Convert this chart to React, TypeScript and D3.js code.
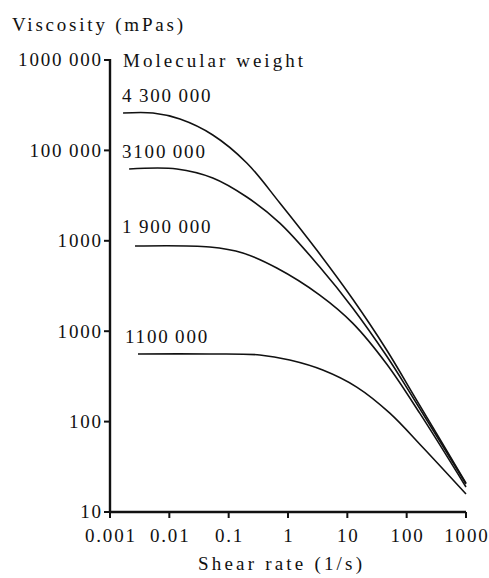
import React from "react";
import * as d3 from "d3";

const W = 489;
const H = 578;

// x: shear rate (1/s), y: viscosity (mPas)
const series4300000: [number, number][] = [
  [0.00166, 259000], [0.0053, 259000], [0.0151, 222000], [0.054, 148000],
  [0.202, 72600], [0.728, 26200], [3.05, 7900], [12.3, 2270], [46, 620],
  [147, 173], [1000, 20.9],
];
const series3100000: [number, number][] = [
  [0.0021, 62300], [0.0134, 62300], [0.054, 49500], [0.202, 30500],
  [0.728, 15700], [3.43, 5130], [12.3, 1810], [46, 532], [112, 212], [1000, 20.4],
];
const series1900000: [number, number][] = [
  [0.00264, 8750], [0.048, 8530], [0.173, 7330], [0.647, 5000], [3.43, 2510],
  [12.3, 1230], [46, 434], [166, 124], [1000, 18.9],
];
const series1100000: [number, number][] = [
  [0.00296, 560], [0.048, 560], [0.335, 546], [1.07, 480], [3.85, 372],
  [14.4, 241], [52, 124], [186, 52], [1000, 15.8],
];

const seriesLabels = ["4\u2009300\u2009000", "3100\u2009000", "1\u2009900\u2009000", "1100\u2009000"];
const seriesData = [series4300000, series3100000, series1900000, series1100000];

const xTicks = [0.001, 0.01, 0.1, 1, 10, 100, 1000];
const xTickLabels = ["0.001", "0.01", "0.1", "1", "10", "100", "1000"];
const yTicks = [10, 100, 1000, 10000, 100000, 1000000];
const yTickLabels = ["10", "100", "1000", "1000", "100\u2009000", "1000\u2009000"];

const FONT = "Liberation Serif";
const FS = 19;
const LS = 1.8;

export default function App() {
  const x = d3.scaleLog().domain([0.001, 1000]).range([110, 466]);
  const y = d3.scaleLog().domain([10, 1000000]).range([512, 60]);
  const line = d3
    .line<[number, number]>()
    .x((d) => x(d[0]))
    .y((d) => y(d[1]))
    .curve(d3.curveCatmullRom.alpha(0.5));

  const labelX = [122, 122, 122, 125];
  const labelDy = [-11, -11, -13, -11];
  const ts = { fontFamily: FONT };

  return (
    <svg
      width={W}
      height={H}
      style={{ position: "absolute", left: 0, top: 0, background: "#fff", fontFamily: FONT }}
    >
      <rect width={W} height={H} fill="#fff" />
      {/* Axis titles */}
      <text style={ts} x={12} y={31} fontSize={FS} fill="#111" textLength={171} lengthAdjust="spacing">
        Viscosity (mPas)
      </text>
      <text style={ts} x={198} y={570} fontSize={FS} fill="#111" textLength={164} lengthAdjust="spacing">
        Shear rate (1/s)
      </text>
      <text style={ts} x={123} y={67} fontSize={FS} fill="#111" textLength={180} lengthAdjust="spacing">
        Molecular weight
      </text>

      {/* Curves */}
      {seriesData.map((s, i) => (
        <path key={i} d={line(s) || ""} fill="none" stroke="#111" strokeWidth={1.6} />
      ))}
      {seriesData.map((s, i) => (
        <text
          key={"l" + i}
          style={ts}
          x={labelX[i]}
          y={y(s[0][1]) + labelDy[i]}
          fontSize={FS}
          letterSpacing={LS}
          fill="#111"
        >
          {seriesLabels[i]}
        </text>
      ))}

      {/* Y axis */}
      <line x1={110} x2={110} y1={y(1000000) - 1} y2={y(10) + 1} stroke="#111" strokeWidth={2.4} />
      {yTicks.map((t, i) => (
        <g key={"y" + i}>
          <line x1={104} x2={110} y1={y(t)} y2={y(t)} stroke="#111" strokeWidth={2} />
          <text
            style={ts}
            x={101 + LS}
            y={y(t)}
            dy="0.34em"
            fontSize={FS}
            letterSpacing={LS}
            textAnchor="end"
            fill="#111"
          >
            {yTickLabels[i]}
          </text>
        </g>
      ))}

      {/* X axis */}
      <line x1={109} x2={x(1000)} y1={512} y2={512} stroke="#111" strokeWidth={2.6} />
      {xTicks.map((t, i) => (
        <g key={"x" + i}>
          <line x1={x(t)} x2={x(t)} y1={512} y2={518} stroke="#111" strokeWidth={2} />
          <text
            style={ts}
            x={x(t) + LS / 2}
            y={542}
            fontSize={FS}
            letterSpacing={LS}
            textAnchor="middle"
            fill="#111"
          >
            {xTickLabels[i]}
          </text>
        </g>
      ))}
    </svg>
  );
}
